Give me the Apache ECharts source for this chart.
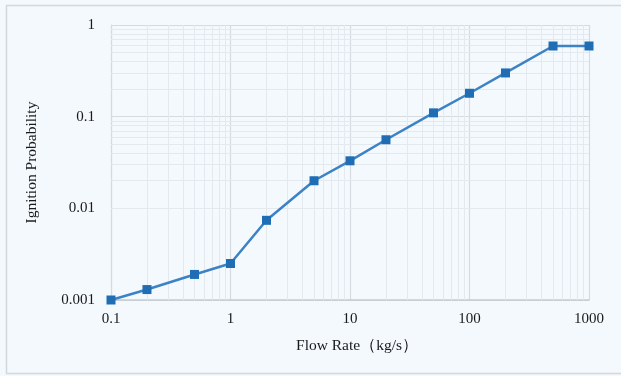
<!DOCTYPE html>
<html><head><meta charset="utf-8">
<script src="https://cdn.jsdelivr.net/npm/echarts@6/dist/echarts.min.js"></script>
<style>html,body{margin:0;padding:0;background:#f4f9fd}#c{width:621px;height:376px}</style>
</head><body><div id="c"></div>
<script>
const flowRates = [0.1, 0.2, 0.5, 1, 2, 5, 10, 20, 50, 100, 200, 500, 1000];
const ignitionProb = [0.001, 0.0013, 0.0019, 0.0025, 0.0074, 0.020, 0.033, 0.056, 0.11, 0.18, 0.30, 0.59, 0.59];
const xMinorValues = [0.2,0.3,0.4,0.5,0.6,0.7,0.8,0.9,2,3,4,5,6,7,8,9,20,30,40,50,60,70,80,90,200,300,400,500,600,700,800,900];
const yMinorValues = [0.002,0.003,0.004,0.005,0.006,0.007,0.008,0.009,0.02,0.03,0.04,0.05,0.06,0.07,0.08,0.09,0.2,0.3,0.4,0.5,0.6,0.7,0.8,0.9];
const xAxisName = 'Flow Rate（kg/s）';
const yAxisName = 'Ignition Probability';

const font = "'Liberation Serif','DejaVu Serif',serif";
const chart = echarts.init(document.getElementById('c'));
const minorLine = {color:'#e3e9ee', width:1, type:'solid'};
chart.setOption({
  backgroundColor:'#f4f9fd',
  animation:false,
  graphic:[{type:'polyline', silent:true, shape:{points:[[640,5.5],[6.5,5.5],[6.5,373.5],[640,373.5]]}, style:{stroke:'#d3d8dc', lineWidth:1.5, fill:null}}],
  grid:{left:111, right:32, top:25, bottom:76},
  xAxis:{type:'log', logBase:10, min:0.1, max:1000,
    name:xAxisName, nameLocation:'middle', nameGap:38,
    nameTextStyle:{fontFamily:font, fontSize:15.5, color:'#1a1a1a', padding:[0,0,0,14]},
    axisLine:{show:true, lineStyle:{color:'#c6cbd0', width:1.5}},
    axisTick:{show:false},
    axisLabel:{fontFamily:font, fontSize:15, color:'#1a1a1a', margin:12, formatter:v=>String(v)},
    splitLine:{show:true, lineStyle:{color:'#d6dbe0', width:1.2}}},
  yAxis:{type:'log', logBase:10, min:0.001, max:1,
    name:yAxisName, nameLocation:'middle', nameGap:71,
    nameTextStyle:{fontFamily:font, fontSize:15.5, color:'#1a1a1a'},
    axisLine:{show:true, lineStyle:{color:'#d6dbe0', width:1.2}},
    axisTick:{show:false},
    axisLabel:{fontFamily:font, fontSize:15, color:'#1a1a1a', margin:16, formatter:v=>String(v)},
    splitLine:{show:true, lineStyle:{color:'#d6dbe0', width:1.2}}},
  series:[
    {type:'line', data:flowRates.map((x,i)=>[x,ignitionProb[i]]), z:3,
     symbol:'rect', symbolSize:9, itemStyle:{color:'#1f6db5'},
     lineStyle:{color:'#3c82c4', width:2.5},
     markLine:{silent:true, symbol:'none', label:{show:false}, lineStyle:minorLine, z:1,
       data:[...xMinorValues.map(v=>({xAxis:v})), ...yMinorValues.map(v=>({yAxis:v}))]}}
  ]
});
</script></body></html>
